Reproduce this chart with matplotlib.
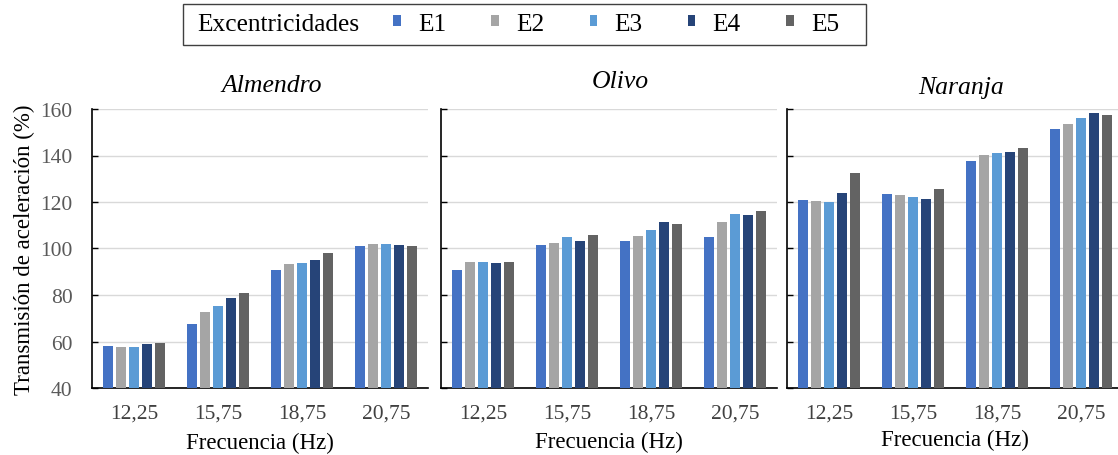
import matplotlib
matplotlib.use("Agg")
import matplotlib.pyplot as plt
from matplotlib.patches import Rectangle
import numpy as np

plt.rcParams['font.family'] = ['Liberation Serif', 'DejaVu Serif']

frequencies = ["12,25", "15,75", "18,75", "20,75"]
series_names = ["E1", "E2", "E3", "E4", "E5"]
colors = ["#4472C4", "#A5A5A5", "#5B9BD5", "#264478", "#636363"]
panels = ["Almendro", "Olivo", "Naranja"]

# values[series][frequency]
almendro = [
    [58.1, 67.5, 90.6, 101.1],   # E1
    [57.8, 72.5, 93.3, 102.1],   # E2
    [57.5, 75.3, 93.8, 101.8],   # E3
    [58.8, 78.6, 94.9, 101.5],   # E4
    [59.2, 81.0, 98.1, 101.1],   # E5
]
olivo = [
    [90.8, 101.6, 103.1, 105.0],
    [94.4, 102.4, 105.3, 111.5],
    [94.4, 105.0, 108.0, 114.9],
    [93.8, 103.4, 111.2, 114.3],
    [94.4, 105.9, 110.6, 116.0],
]
naranja = [
    [121.0, 123.5, 137.7, 151.3],
    [120.3, 122.9, 140.2, 153.6],
    [119.9, 122.3, 140.9, 156.0],
    [123.8, 121.5, 141.7, 158.4],
    [132.5, 125.5, 143.4, 157.4],
]
data = [almendro, olivo, naranja]

W, H = 1118, 456
fig = plt.figure(figsize=(W / 100, H / 100), dpi=100)

ax_lefts = [92, 441, 787]
ax_w = 336
ax_top, ax_bot = 110, 389
title_pos = [(272, 86), (620, 82), (961, 88)]
xlabel_pads = [7, 6, 5]

x = np.arange(len(frequencies))
bar_w = 0.12
step = 0.155
handles = None
for i, (name, vals) in enumerate(zip(panels, data)):
    ax = fig.add_axes([ax_lefts[i] / W, 1 - ax_bot / H, ax_w / W, (ax_bot - ax_top) / H])
    hs = []
    for s, (sname, col) in enumerate(zip(series_names, colors)):
        b = ax.bar(x + (s - 2) * step, vals[s], width=bar_w, color=col, label=sname, zorder=3)
        hs.append(b)
    if handles is None:
        handles = hs
    ax.set_xlim(-0.5, len(frequencies) - 0.5)
    ax.set_ylim(40, 160)
    ax.set_yticks(np.arange(40, 161, 20))
    ax.yaxis.grid(True, color="#d9d9d9", linewidth=1.0, zorder=0)
    ax.set_axisbelow(True)
    for sp in ["top", "right"]:
        ax.spines[sp].set_visible(False)
    for sp in ["left", "bottom"]:
        ax.spines[sp].set_color("black")
        ax.spines[sp].set_linewidth(1.2)
    ax.set_xticks(x)
    ax.set_xticklabels(frequencies, fontsize=15.5, color="#404040")
    ax.tick_params(axis="x", length=0, pad=11)
    ax.tick_params(axis="y", direction="in", length=4, width=1.0, labelsize=15.5,
                   labelcolor="#595959", pad=14)
    if i > 0:
        ax.tick_params(axis="y", labelleft=False)
    else:
        ax.set_ylabel("Transmisión de aceleración (%)", fontsize=16.5, labelpad=4)
    ax.set_xlabel("Frecuencia (Hz)", fontsize=16.5, labelpad=xlabel_pads[i])
    fig.text(title_pos[i][0] / W, 1 - title_pos[i][1] / H, name, ha="center", va="center",
             fontsize=18.5, style="italic")

# Legend box
fig.patches.append(Rectangle((183 / W, 1 - 46 / H), 683 / W, 41 / H, transform=fig.transFigure,
                             fill=False, edgecolor="#404040", linewidth=1.0))
fig.text(197 / W, 1 - 25 / H, "Excentricidades", fontsize=18.3, ha="left", va="center")
fig.legend(handles=handles, labels=series_names, ncol=5, frameon=False, fontsize=18.3,
           loc="center left", bbox_to_anchor=(393 / W, 1 - 25 / H),
           borderaxespad=0, borderpad=0, handlelength=0.3, handleheight=0.3,
           handletextpad=0.68, columnspacing=1.78)

fig.savefig("out.png", dpi=100)
